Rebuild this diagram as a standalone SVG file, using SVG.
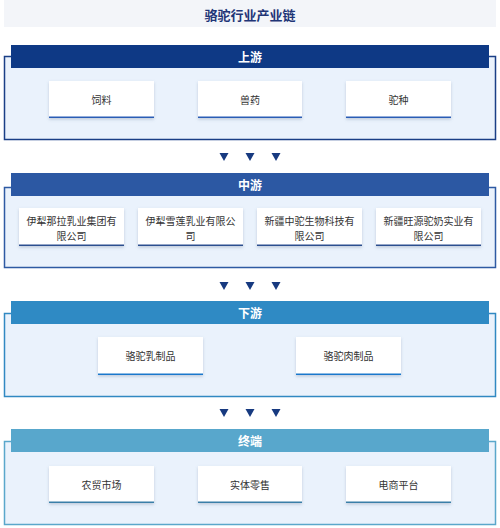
<svg xmlns="http://www.w3.org/2000/svg" width="500" height="528" viewBox="0 0 500 528">
<defs>
<filter id="sh" x="-10%" y="-20%" width="120%" height="150%">
<feDropShadow dx="0" dy="1.5" stdDeviation="1.5" flood-color="#6b7f9e" flood-opacity="0.35"/>
</filter>
<style>
text{font-family:"Noto Sans CJK SC","Noto Sans",sans-serif;text-anchor:middle;dominant-baseline:central}
.title{font-size:13px;font-weight:bold;fill:#1f3577}
.hd{font-size:12px;font-weight:bold;fill:#ffffff}
.card{fill:#ffffff;filter:url(#sh)}
.ct{font-size:10px;fill:#333333}
.box{fill:#eaf2fc;stroke-width:1.5}
.tri{fill:#173a80}
</style>
</defs>
<rect width="500" height="528" fill="#ffffff"/>
<rect x="4" y="0" width="492" height="27" fill="#f3f5f9"/>
<text class="title" x="250" y="14">骆驼行业产业链</text>

<g id="upstream">
<rect class="box" x="4.5" y="56.5" width="491" height="83" stroke="#1a3f86"/>
<rect x="11" y="45" width="478" height="23" fill="#0e3985"/>
<text class="hd" x="250" y="56.5">上游</text>
</g>
<g id="n-feed"><rect class="card" x="49" y="81" width="105" height="37"/><rect x="49" y="116.5" width="105" height="1.5" fill="#2a5db5"/><text class="ct" x="101.5" y="99">饲料</text></g>
<g id="n-vet"><rect class="card" x="198" y="81" width="104" height="37"/><rect x="198" y="116.5" width="104" height="1.5" fill="#2a5db5"/><text class="ct" x="250" y="99">兽药</text></g>
<g id="n-breed"><rect class="card" x="346" y="81" width="105" height="37"/><rect x="346" y="116.5" width="105" height="1.5" fill="#2a5db5"/><text class="ct" x="398.5" y="99">驼种</text></g>

<g id="midstream">
<rect class="box" x="4.5" y="187.5" width="491" height="80" stroke="#2e5aa3"/>
<rect x="11" y="173" width="478" height="23" fill="#2c58a3"/>
<text class="hd" x="250" y="184.5">中游</text>
</g>
<g id="n-m1"><rect class="card" x="19" y="208" width="105" height="38"/><rect x="19" y="244.5" width="105" height="1.5" fill="#2c4f8f"/><text class="ct" x="71.5" y="220">伊犁那拉乳业集团有</text><text class="ct" x="71.5" y="235">限公司</text></g>
<g id="n-m2"><rect class="card" x="138" y="208" width="105" height="38"/><rect x="138" y="244.5" width="105" height="1.5" fill="#2c4f8f"/><text class="ct" x="190.5" y="220">伊犁雪莲乳业有限公</text><text class="ct" x="190.5" y="235">司</text></g>
<g id="n-m3"><rect class="card" x="257" y="208" width="105" height="38"/><rect x="257" y="244.5" width="105" height="1.5" fill="#2c4f8f"/><text class="ct" x="309.5" y="220">新疆中驼生物科技有</text><text class="ct" x="309.5" y="235">限公司</text></g>
<g id="n-m4"><rect class="card" x="376" y="208" width="105" height="38"/><rect x="376" y="244.5" width="105" height="1.5" fill="#2c4f8f"/><text class="ct" x="428.5" y="220">新疆旺源驼奶实业有</text><text class="ct" x="428.5" y="235">限公司</text></g>

<g id="downstream">
<rect class="box" x="4.5" y="313.5" width="491" height="83" stroke="#3189c2"/>
<rect x="11" y="301" width="478" height="23" fill="#2f8ac4"/>
<text class="hd" x="250" y="312.5">下游</text>
</g>
<g id="n-milk"><rect class="card" x="98" y="337" width="105" height="38"/><rect x="98" y="373.5" width="105" height="1.5" fill="#1a78cc"/><text class="ct" x="150.5" y="355">骆驼乳制品</text></g>
<g id="n-meat"><rect class="card" x="296" y="337" width="105" height="38"/><rect x="296" y="373.5" width="105" height="1.5" fill="#1a78cc"/><text class="ct" x="348.5" y="355">骆驼肉制品</text></g>

<g id="terminal">
<rect class="box" x="4.5" y="441.5" width="491" height="83" stroke="#5aa7cb"/>
<rect x="11" y="429" width="478" height="23" fill="#58a7cc"/>
<text class="hd" x="250" y="440.5">终端</text>
</g>
<g id="n-market"><rect class="card" x="49" y="466" width="105" height="37"/><rect x="49" y="501.5" width="105" height="1.5" fill="#3a7fa8"/><text class="ct" x="101.5" y="484">农贸市场</text></g>
<g id="n-retail"><rect class="card" x="198" y="466" width="104" height="37"/><rect x="198" y="501.5" width="104" height="1.5" fill="#3a7fa8"/><text class="ct" x="250" y="484">实体零售</text></g>
<g id="n-ecom"><rect class="card" x="346" y="466" width="105" height="37"/><rect x="346" y="501.5" width="105" height="1.5" fill="#3a7fa8"/><text class="ct" x="398.5" y="484">电商平台</text></g>

<g id="connectors">
<path class="tri" d="M219.5 153h9l-4.5 8z M245.5 153h9l-4.5 8z M271.5 153h9l-4.5 8z"/>
<path class="tri" d="M219.5 282h9l-4.5 8z M245.5 282h9l-4.5 8z M271.5 282h9l-4.5 8z"/>
<path class="tri" d="M219.5 409h9l-4.5 8z M245.5 409h9l-4.5 8z M271.5 409h9l-4.5 8z"/>
</g>
</svg>
